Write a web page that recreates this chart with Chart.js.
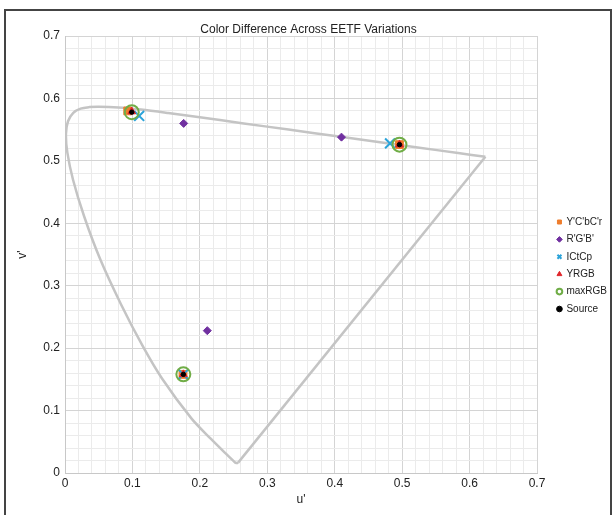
<!DOCTYPE html>
<html>
<head>
<meta charset="utf-8">
<script src="https://cdn.jsdelivr.net/npm/chart.js@4.4.1/dist/chart.umd.min.js"></script>
<style>
  html, body { margin: 0; padding: 0; background: #fff; }
  #wrap { position: relative; width: 615px; height: 515px; }
  #frame { position: absolute; left: 4px; top: 9px; width: 608px; height: 510px; border: 2px solid #444; border-bottom: none; box-sizing: border-box; pointer-events: none; }
  canvas { position: absolute; left: 0; top: 0; }
</style>
</head>
<body>
<div id="wrap">
  <canvas id="cieChart" width="615" height="515"></canvas>
  <div id="frame"></div>
</div>
<script>
// spectral locus (u', v'), 380 nm -> 700 nm
const locusU = [0.2568, 0.2557, 0.2547, 0.2522, 0.2347, 0.2161, 0.1877, 0.1441, 0.1147, 0.0828, 0.0521, 0.0282, 0.0119, 0.0035, 0.0014, 0.0046, 0.0123, 0.0231, 0.0360, 0.0501, 0.0792, 0.1127, 0.1531, 0.2026, 0.2623, 0.3315, 0.4035, 0.5203, 0.5830, 0.6234];
const locusV = [0.0166, 0.0159, 0.0159, 0.0169, 0.0350, 0.0549, 0.0871, 0.1510, 0.2044, 0.2708, 0.3427, 0.4117, 0.4698, 0.5131, 0.5432, 0.5638, 0.5770, 0.5837, 0.5861, 0.5868, 0.5856, 0.5821, 0.5766, 0.5694, 0.5604, 0.5501, 0.5393, 0.5219, 0.5125, 0.5065];
// closing line between the two ends of the locus
const purpleU = [0.6234, 0.2568];
const purpleV = [0.5065, 0.0166];

// measured points: green, red, blue primaries
const ycbcrU = [0.093, 0.496, 0.175];
const ycbcrV = [0.580, 0.526, 0.158];
const rgbU = [0.176, 0.410, 0.211];
const rgbV = [0.560, 0.538, 0.228];
const ictcpU = [0.110, 0.482, 0.1755];
const ictcpV = [0.572, 0.528, 0.158];
const yrgbU = [0.099, 0.496, 0.1755];
const yrgbV = [0.579, 0.526, 0.158];
const maxrgbU = [0.099, 0.496, 0.1755];
const maxrgbV = [0.578, 0.526, 0.158];
const sourceU = [0.099, 0.496, 0.1755];
const sourceV = [0.578, 0.526, 0.158];

const axisMax = 0.7;
const axisStep = 0.02;

function toPoints(us, vs) {
    return us.map((u, i) => ({ x: u, y: vs[i] }));
}

function isMajor(v) {
    return Math.round(v * 100) % 10 === 0;
}

const gridColor = ctx => (ctx.tick && isMajor(ctx.tick.value)) ? '#d4d4d4' : '#ebebeb';
const tickLabel = v => isMajor(v) ? String(Math.round(v * 10) / 10) : '';

const chart = new Chart(document.getElementById('cieChart'), {
    type: 'scatter',
    data: {
        datasets: [
            { label: "Y'C'bC'r", data: toPoints(ycbcrU, ycbcrV), pointStyle: 'rect', pointRadius: 5.5, backgroundColor: '#ee7d2c', borderColor: '#ee7d2c', borderWidth: 1, order: 6 },
            { label: "R'G'B'", data: toPoints(rgbU, rgbV), pointStyle: 'rectRot', pointRadius: 4, backgroundColor: '#7030a0', borderColor: '#7030a0', borderWidth: 1, order: 5 },
            { label: 'ICtCp', data: toPoints(ictcpU, ictcpV), pointStyle: 'crossRot', pointRadius: 7, backgroundColor: '#2ba3d9', borderColor: '#2ba3d9', borderWidth: 2, order: 4 },
            { label: 'YRGB', data: toPoints(yrgbU, yrgbV), pointStyle: 'triangle', pointRadius: 4.5, backgroundColor: '#e0262b', borderColor: '#e0262b', borderWidth: 1, order: 2 },
            { label: 'maxRGB', data: toPoints(maxrgbU, maxrgbV), pointStyle: 'circle', pointRadius: 7, backgroundColor: 'rgba(0,0,0,0)', borderColor: '#70ad47', borderWidth: 2, order: 3 },
            { label: 'Source', data: toPoints(sourceU, sourceV), pointStyle: 'circle', pointRadius: 2.2, backgroundColor: '#000', borderColor: '#000', borderWidth: 1, order: 1 },
            { label: 'locus', data: toPoints(locusU, locusV), showLine: true, pointRadius: 0, borderColor: '#c4c4c4', borderWidth: 2.5, tension: 0.3, order: 10 },
            { label: 'locus', data: toPoints(purpleU, purpleV), showLine: true, pointRadius: 0, borderColor: '#c4c4c4', borderWidth: 2.5, order: 10 }
        ]
    },
    options: {
        responsive: false,
        animation: false,
        events: [],
        layout: { padding: { top: 16, left: 0, right: -2, bottom: 0 } },
        scales: {
            x: {
                type: 'linear',
                min: 0,
                max: axisMax,
                afterFit: s => { s.height = 42; },
                grid: { color: gridColor, drawTicks: false },
                border: { color: '#c8c8c8' },
                ticks: { stepSize: axisStep, autoSkip: false, maxRotation: 0, padding: 3, color: '#222', font: { family: 'Liberation Sans', size: 12 }, callback: tickLabel },
                title: { display: true, text: "u'", color: '#222', font: { family: 'Liberation Sans', size: 12 }, padding: { top: 0, bottom: 8 } }
            },
            y: {
                type: 'linear',
                min: 0,
                max: axisMax,
                afterFit: s => { s.width = 65; },
                grid: { color: gridColor, drawTicks: false },
                border: { color: '#c8c8c8' },
                ticks: { stepSize: axisStep, autoSkip: false, padding: 5, color: '#222', font: { family: 'Liberation Sans', size: 12 }, callback: tickLabel },
                title: { display: true, text: "v'", color: '#222', font: { family: 'Liberation Sans', size: 12 }, padding: { top: 15, bottom: 0 } }
            },
            gap: {
                type: 'linear',
                position: 'right',
                display: true,
                min: 0,
                max: 1,
                afterFit: s => { s.width = 13; },
                grid: { display: false },
                border: { display: false },
                ticks: { display: false }
            }
        },
        plugins: {
            title: {
                display: true,
                text: 'Color Difference Across EETF Variations',
                color: '#222',
                font: { family: 'Liberation Sans', size: 12, weight: 'normal', lineHeight: 1 },
                padding: { top: 8, bottom: 0 }
            },
            legend: {
                position: 'right',
                labels: {
                    usePointStyle: true,
                    boxWidth: 4,
                    boxHeight: 4,
                    padding: 7.4,
                    color: '#222',
                    font: { family: 'Liberation Sans', size: 10 },
                    filter: item => item.text !== 'locus',
                    sort: (a, b) => a.datasetIndex - b.datasetIndex
                }
            },
            tooltip: { enabled: false }
        }
    }
});
</script>
</body>
</html>
